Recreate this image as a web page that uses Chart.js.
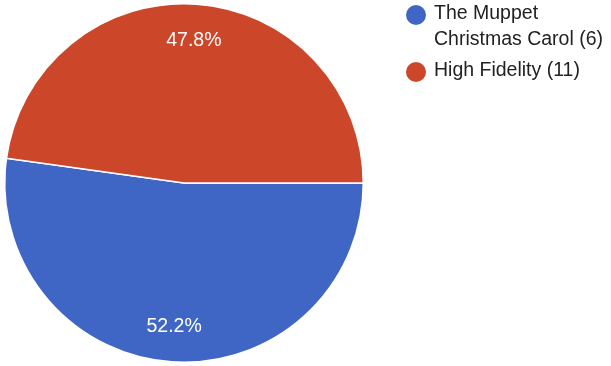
<!DOCTYPE html>
<html>
<head>
<meta charset="utf-8">
<script src="https://cdn.jsdelivr.net/npm/chart.js@4/dist/chart.umd.min.js"></script>
<style>
html,body{margin:0;padding:0;background:#fff;}
#wrap{width:611px;height:366px;}
</style>
</head>
<body>
<div id="wrap"><canvas id="c" width="611" height="366"></canvas></div>
<script>
const categories = ["The Muppet Christmas Carol", "High Fidelity"];
const counts = [6, 11];
const shares = [52.2, 47.8];
const colors = ["#4066C5", "#CC4729"];

const FONT = '19.5px "Liberation Sans", Arial, sans-serif';

const sliceLabels = {
  id: 'sliceLabels',
  afterDatasetsDraw(chart) {
    const ctx = chart.ctx;
    const meta = chart.getDatasetMeta(0);
    ctx.save();
    ctx.font = FONT;
    ctx.fillStyle = '#ffffff';
    ctx.textAlign = 'center';
    ctx.textBaseline = 'middle';
    meta.data.forEach((arc, i) => {
      const p = arc.getProps(['x','y','startAngle','endAngle','outerRadius'], true);
      const mid = (p.startAngle + p.endAngle) / 2;
      const r = p.outerRadius * 0.8;
      ctx.fillText(shares[i].toFixed(1) + '%', p.x + Math.cos(mid) * r, p.y + Math.sin(mid) * r + 1);
    });
    ctx.restore();
  }
};

const sideLegend = {
  id: 'sideLegend',
  afterDraw(chart) {
    const ctx = chart.ctx;
    ctx.save();
    ctx.font = FONT;
    ctx.textBaseline = 'middle';
    ctx.textAlign = 'left';
    const lines = [
      [categories[0].split(' ').slice(0,2).join(' '), categories[0].split(' ').slice(2).join(' ') + ' (' + counts[0] + ')'],
      [categories[1] + ' (' + counts[1] + ')']
    ];
    const tops = [14, 71];
    const dots = [15, 72];
    lines.forEach((ls, i) => {
      ctx.fillStyle = colors[i];
      ctx.beginPath();
      ctx.arc(416, dots[i], 10, 0, Math.PI * 2);
      ctx.fill();
      ctx.fillStyle = '#222222';
      ls.forEach((t, j) => ctx.fillText(t, 434, tops[i] + j * 26));
    });
    ctx.restore();
  }
};

new Chart(document.getElementById('c'), {
  type: 'pie',
  data: {
    labels: categories,
    datasets: [{
      data: shares,
      backgroundColor: colors,
      borderColor: '#ffffff',
      borderWidth: 1.5
    }]
  },
  options: {
    responsive: false,
    animation: false,
    rotation: 90,
    layout: { padding: { left: 4, top: 3, right: 247, bottom: 3 } },
    plugins: {
      legend: { display: false },
      tooltip: { enabled: false }
    }
  },
  plugins: [sliceLabels, sideLegend]
});
</script>
</body>
</html>
